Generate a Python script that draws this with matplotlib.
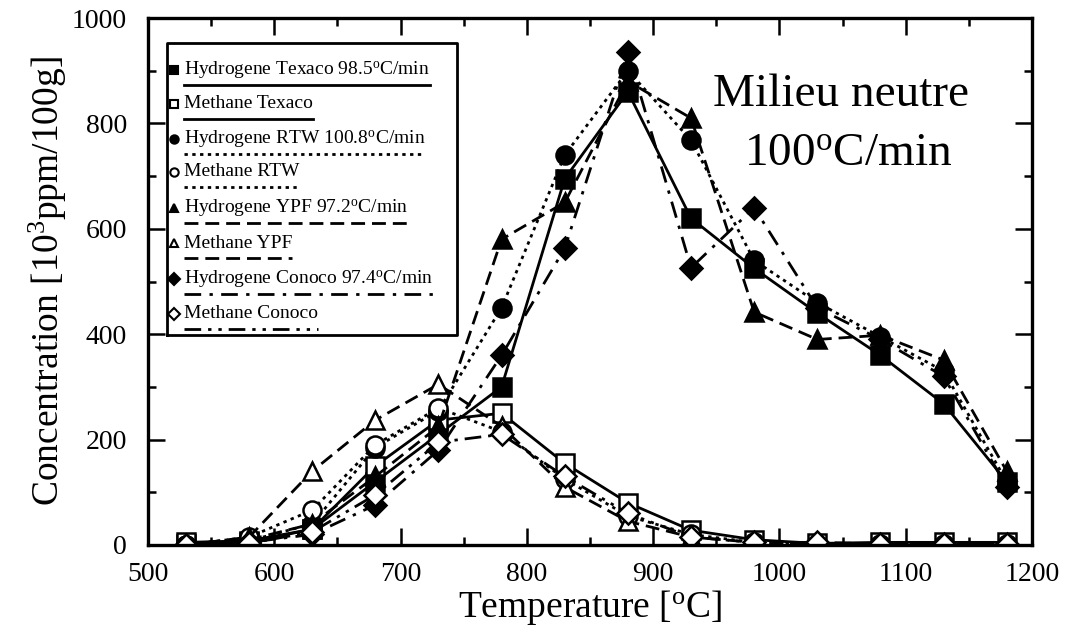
import matplotlib
matplotlib.use("Agg")
import matplotlib.pyplot as plt
from matplotlib.ticker import MultipleLocator

plt.rcParams['font.family'] = 'Liberation Serif'
plt.rcParams['mathtext.fontset'] = 'custom'
plt.rcParams['mathtext.rm'] = 'Liberation Serif'
plt.rcParams['mathtext.it'] = 'Liberation Serif:italic'

# Temperatures (deg C)
temps = [530, 580, 630, 680, 730, 780, 830, 880, 930, 980, 1030, 1080, 1130, 1180]

# Concentrations (10^3 ppm / 100 g)
h2_texaco = [2, 5, 30, 120, 210, 300, 695, 860, 620, 525, 440, 360, 268, 120]
ch4_texaco = [5, 8, 30, 150, 237, 250, 155, 80, 28, 10, 3, 5, 5, 5]
h2_rtw = [0, 8, 40, 185, 255, 450, 740, 900, 768, 540, 460, 395, 330, 120]
ch4_rtw = [0, 15, 66, 190, 260, 215, 125, 55, 20, 5, 2, 2, 2, 2]
h2_ypf = [0, 10, 40, 130, 225, 580, 650, 880, 810, 442, 390, 398, 351, 140]
ch4_ypf = [0, 15, 140, 237, 305, 225, 110, 45, 15, 5, 3, 2, 2, 2]
h2_conoco = [0, 5, 20, 76, 180, 360, 563, 935, 526, 640, 450, 390, 320, 110]
ch4_conoco = [0, 3, 25, 95, 195, 210, 130, 60, 15, 5, 5, 2, 2, 2]

labels = ["Hydrogene Texaco 98.5$^{\\mathrm{o}}$C/min", "Methane Texaco",
          "Hydrogene RTW 100.8$^{\\mathrm{o}}$C/min", "Methane RTW",
          "Hydrogene YPF 97.2$^{\\mathrm{o}}$C/min", "Methane YPF",
          "Hydrogene Conoco 97.4$^{\\mathrm{o}}$C/min", "Methane Conoco"]

series = [h2_texaco, ch4_texaco, h2_rtw, ch4_rtw, h2_ypf, ch4_ypf, h2_conoco, ch4_conoco]
markers = ["s", "s", "o", "o", "^", "^", "D", "D"]
filled = [True, False, True, False, True, False, True, False]
styles = ["-", "-", (0, (1.2, 1.6)), (0, (1.2, 1.6)), (0, (5, 2.5)), (0, (5, 2.5)),
          (0, (6, 3, 1.2, 3)), (0, (6, 2.5, 1.2, 2.5, 1.2, 2.5))]
msizes = [13, 13, 13, 13, 13, 13, 11, 11]

fig = plt.figure(figsize=(10.7, 6.33), dpi=100)
ax = fig.add_axes([148 / 1070, 88 / 633, 884 / 1070, 527 / 633])

for y, m, f, ls, ms in zip(series, markers, filled, styles, msizes):
    ax.plot(temps, y, color="black", linestyle=ls, linewidth=2.0,
            marker=m, markersize=ms, markeredgewidth=1.8,
            markerfacecolor="black" if f else "white", markeredgecolor="black")

ax.set_xlim(500, 1200)
ax.set_ylim(0, 1000)
ax.xaxis.set_major_locator(MultipleLocator(100))
ax.xaxis.set_minor_locator(MultipleLocator(50))
ax.yaxis.set_major_locator(MultipleLocator(200))
ax.yaxis.set_minor_locator(MultipleLocator(100))
ax.tick_params(which="both", direction="in", top=True, right=True, width=1.8)
ax.tick_params(which="major", length=12, labelsize=20)
ax.tick_params(which="minor", length=6)
ax.tick_params(axis="x", which="major", pad=12)
ax.tick_params(axis="y", which="major", pad=15)
for sp in ax.spines.values():
    sp.set_linewidth(2.4)

ax.set_xlabel("Temperature [$^{\\mathrm{o}}$C]", fontsize=27, labelpad=1)
ax.set_ylabel("Concentration [10$^{3}$ppm/100g]", fontsize=27, labelpad=2)

ax.text(0.784, 0.854, "Milieu neutre", transform=ax.transAxes, fontsize=34,
        ha="center", va="center")
ax.text(0.792, 0.742, "100$^{\\mathrm{o}}$C/min", transform=ax.transAxes, fontsize=34,
        ha="center", va="center")

# hand-made legend box
box_l, box_r = (167 - 148) / 884, (457 - 148) / 884
box_t, box_b = (545 - 43) / 527, (545 - 335) / 527
ax.plot([box_l, box_r, box_r, box_l, box_l], [box_b, box_b, box_t, box_t, box_b],
        color="black", linewidth=2.0, transform=ax.transAxes, clip_on=False, zorder=5)
ax.fill([box_l, box_r, box_r, box_l], [box_b, box_b, box_t, box_t],
        color="white", transform=ax.transAxes, zorder=4)

text_y = [70, 104, 139, 172, 208, 243, 279, 314]
fig.canvas.draw()
inv = ax.transAxes.inverted()
for i, lab in enumerate(labels):
    ty = (545 - text_y[i]) / 527
    ly = (545 - text_y[i] - 15) / 527
    ax.plot([(174 - 148) / 884], [ty], marker=markers[i], markersize=6,
            markerfacecolor="black" if filled[i] else "white",
            markeredgecolor="black", markeredgewidth=1.5,
            transform=ax.transAxes, zorder=6)
    t = ax.text((184 - 148) / 884, ty, lab, transform=ax.transAxes, fontsize=14,
                ha="left", va="center", zorder=6)
    bb = t.get_window_extent(renderer=fig.canvas.get_renderer())
    x0 = inv.transform((bb.x0, bb.y0))[0]
    x1 = inv.transform((bb.x1, bb.y0))[0]
    ax.plot([x0, x1], [ly, ly], color="black", linestyle=styles[i],
            linewidth=2.0, transform=ax.transAxes, zorder=6)

fig.savefig("out.png", dpi=100)
